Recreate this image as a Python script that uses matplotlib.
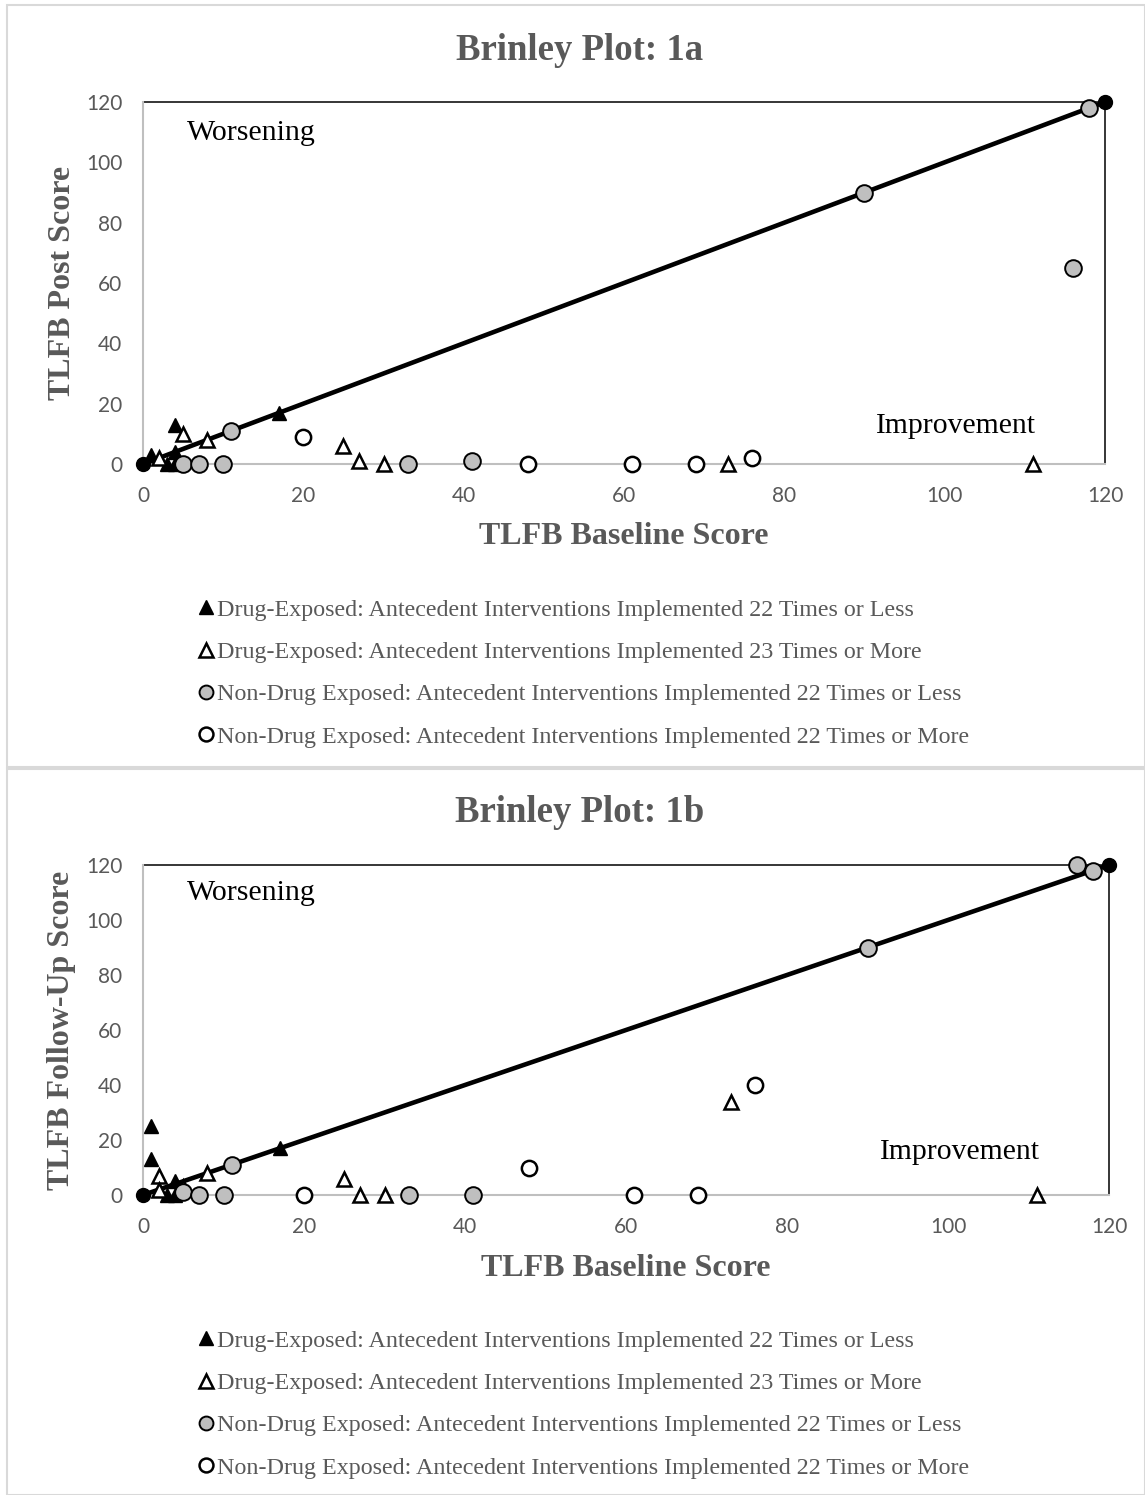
import matplotlib
matplotlib.use("Agg")
import matplotlib.pyplot as plt
from matplotlib.patches import Rectangle

# ---- data ----
# 1a : baseline vs post
a_de_less_x = [1, 3, 4, 4, 4, 17]
a_de_less_y = [3, 0, 0, 4, 13, 17]
a_de_more_x = [2, 5, 8, 25, 27, 30, 73, 111]
a_de_more_y = [2, 10, 8, 6, 1, 0, 0, 0]
a_nde_less_x = [5, 7, 10, 11, 33, 41, 90, 116, 118]
a_nde_less_y = [0, 0, 0, 11, 0, 1, 90, 65, 118]
a_nde_more_x = [20, 48, 61, 69, 76]
a_nde_more_y = [9, 0, 0, 0, 2]

# 1b : baseline vs follow-up
b_de_less_x = [1, 1, 3, 4, 4, 17]
b_de_less_y = [25, 13, 0, 0, 5, 17]
b_de_more_x = [2, 2, 5, 8, 25, 27, 30, 73, 111]
b_de_more_y = [7, 2, 3, 8, 6, 0, 0, 34, 0]
b_nde_less_x = [5, 7, 10, 11, 33, 41, 90, 116, 118]
b_nde_less_y = [1, 0, 0, 11, 0, 0, 90, 120, 118]
b_nde_more_x = [20, 48, 61, 69, 76]
b_nde_more_y = [0, 10, 0, 0, 40]

diag_x = [0, 120]
diag_y = [0, 120]
frame_x = [0, 120, 120]
frame_y = [120, 120, 0]
ticks = [0, 20, 40, 60, 80, 100, 120]

labels = ["Drug-Exposed: Antecedent Interventions Implemented 22 Times or Less",
          "Drug-Exposed: Antecedent Interventions Implemented 23 Times or More",
          "Non-Drug Exposed: Antecedent Interventions Implemented 22 Times or Less",
          "Non-Drug Exposed: Antecedent Interventions Implemented 22 Times or More"]

GREY_TXT = "#595959"
SERIF = "Liberation Serif"
W, H = 1145, 1495

fig = plt.figure(figsize=(W / 100, H / 100), dpi=100)
fig.patch.set_facecolor("white")

# light panel borders
fig.patches.append(Rectangle((7 / W, 1 - 767 / H), (W - 7) / W, 762 / H, transform=fig.transFigure,
                             fill=False, ec="#D9D9D9", lw=1.5))
fig.patches.append(Rectangle((7 / W, 0), (W - 7) / W, 1 - 769 / H, transform=fig.transFigure,
                             fill=False, ec="#D9D9D9", lw=1.5))


def brinley(box, title, title_y, ylabel, d, worse_y, improve_pos, leg_top):
    ax = fig.add_axes(box)
    x1, y1, x2, y2, x3, y3, x4, y4 = d
    ax.plot(frame_x, frame_y, color="black", lw=1.1, clip_on=False, zorder=2)
    ax.plot(diag_x, diag_y, color="black", lw=3.3, marker="o", ms=10, mfc="black",
            mec="black", clip_on=False, zorder=3)
    h1, = ax.plot(x1, y1, ls="none", marker="^", ms=9.5, mfc="black", mec="black",
                  clip_on=False, zorder=4)
    h2, = ax.plot(x2, y2, ls="none", marker="^", ms=9.5, mfc="white", mec="black", mew=1.8,
                  clip_on=False, zorder=4)
    h3, = ax.plot(x3, y3, ls="none", marker="o", ms=12, mfc="#BFBFBF", mec="black", mew=1.4,
                  clip_on=False, zorder=4)
    h4, = ax.plot(x4, y4, ls="none", marker="o", ms=11, mfc="white", mec="black", mew=1.8,
                  clip_on=False, zorder=4)

    ax.set_xlim(0, 120)
    ax.set_ylim(0, 120)
    ax.set_xticks(ticks)
    ax.set_yticks(ticks)
    for s in ["top", "right"]:
        ax.spines[s].set_visible(False)
    for s in ["left", "bottom"]:
        ax.spines[s].set_color("#BFBFBF")
        ax.spines[s].set_linewidth(1.5)
    ax.tick_params(axis="x", length=0, pad=16, labelsize=15, labelcolor=GREY_TXT)
    ax.tick_params(axis="y", length=0, pad=15, labelsize=15, labelcolor=GREY_TXT)
    for t in ax.get_xticklabels() + ax.get_yticklabels():
        t.set_fontfamily("Lato")

    ax.set_xlabel("TLFB Baseline Score", fontfamily=SERIF, fontweight="bold", fontsize=23,
                  color=GREY_TXT, va="center")
    ax.xaxis.set_label_coords(0.5, -73 / (box[3] * H))
    ax.set_ylabel(ylabel, fontfamily=SERIF, fontweight="bold", fontsize=23,
                  color=GREY_TXT, va="center")
    ax.yaxis.set_label_coords(-81 / (box[2] * W), 0.5)

    ax.text(0.0457, worse_y, "Worsening", transform=ax.transAxes, fontfamily=SERIF,
            fontsize=21.5, va="center", ha="left")
    ax.text(improve_pos[0], improve_pos[1], "Improvement", transform=ax.transAxes,
            fontfamily=SERIF, fontsize=21.3, va="center", ha="left")

    fig.text(0.5 + 7 / W, title_y, title, ha="center", va="center", fontfamily=SERIF,
             fontweight="bold", fontsize=26.5, color=GREY_TXT)

    leg = fig.legend([h1, h2, h3, h4], labels, loc="upper left",
                     bbox_to_anchor=(198 / W, leg_top), frameon=False, borderpad=0,
                     borderaxespad=0, handlelength=0.65, handletextpad=0.12,
                     labelspacing=0.85, prop={"family": SERIF, "size": 17.3})
    for t in leg.get_texts():
        t.set_color(GREY_TXT)
    for lh in leg.legend_handles:
        lh.set_markersize(10)
    return ax


brinley([143 / W, 1 - 464 / H, 962 / W, 362 / H], "Brinley Plot: 1a", 1 - 50 / H,
        "TLFB Post Score",
        (a_de_less_x, a_de_less_y, a_de_more_x, a_de_more_y,
         a_nde_less_x, a_nde_less_y, a_nde_more_x, a_nde_more_y),
        0.914, (0.762, 0.105), 1 - 599 / H)

brinley([143 / W, 1 - 1195 / H, 966 / W, 330 / H], "Brinley Plot: 1b", 1 - 813 / H,
        "TLFB Follow-Up Score",
        (b_de_less_x, b_de_less_y, b_de_more_x, b_de_more_y,
         b_nde_less_x, b_nde_less_y, b_nde_more_x, b_nde_more_y),
        0.914, (0.763, 0.13), 1 - 1330 / H)

fig.savefig("out.png", dpi=100)
